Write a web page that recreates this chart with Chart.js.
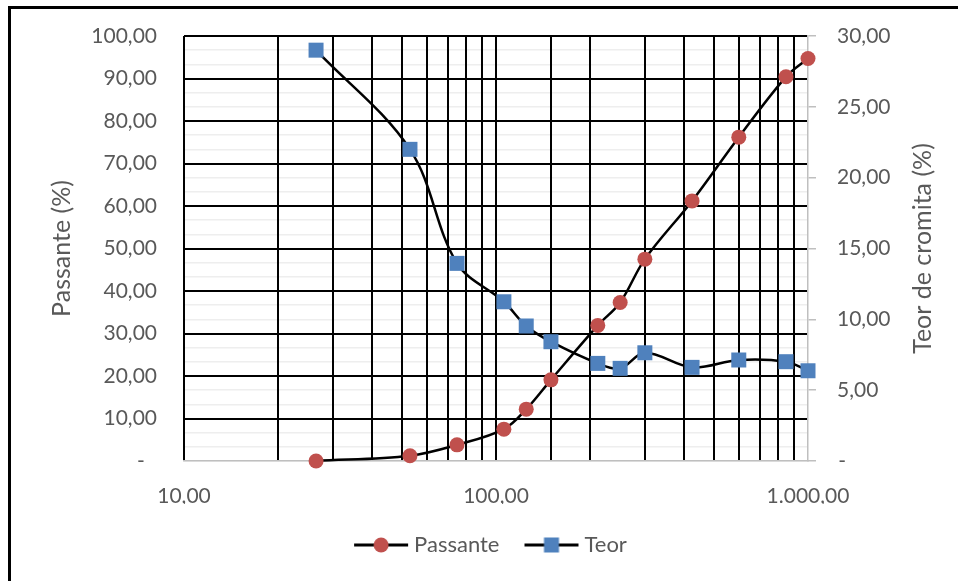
<!DOCTYPE html>
<html>
<head>
<meta charset="utf-8">
<script src="https://cdn.jsdelivr.net/npm/chart.js@4.4.1/dist/chart.umd.min.js"></script>
<style>
    html, body { margin: 0; padding: 0; background: #fff; }
    #wrap { position: relative; width: 958px; height: 581px; overflow: hidden; }
    #frame { position: absolute; left: 8px; top: 6px; width: 1000px; height: 700px;
             border-left: 3px solid #000; border-top: 3px solid #000; }
    #chart { position: absolute; left: 0; top: 0; }
</style>
</head>
<body>
<div id="wrap">
    <div id="frame"></div>
    <canvas id="chart" width="958" height="581"></canvas>
</div>
<script>
// sieve opening (x), passing % (left axis), chromite grade % (right axis)
const sizes    = [26.5, 53, 75, 106, 125, 150, 212, 250, 300, 425, 600, 850, 1000];
const passante = [0, 1.25, 3.8, 7.5, 12.2, 19.1, 31.9, 37.3, 47.5, 61.2, 76.2, 90.4, 94.7];
const teor     = [29.0, 22.0, 13.95, 11.24, 9.53, 8.42, 6.89, 6.54, 7.64, 6.61, 7.13, 7.01, 6.37];

const xDecades    = [10, 100, 1000];
const xTickLabels = ["10,00", "100,00", "1.000,00"];

const leftTitle  = "Passante (%)";
const rightTitle = "Teor de cromita (%)";

const GREY_TEXT = "#595959";
const AXIS_GREY = "#bfbfbf";
const FONT = "Lato, 'Open Sans', sans-serif";

function fmt(v) {
    const parts = v.toFixed(2).split(".");
    parts[0] = parts[0].replace(/\B(?=(\d{3})+(?!\d))/g, ".");
    return parts.join(",");
}

/* legend swatch: black line with the series marker on it */
function legendMarker(kind, color) {
    const c = document.createElement("canvas");
    c.width = 56; c.height = 18;
    const g = c.getContext("2d");
    g.strokeStyle = "#000";
    g.lineWidth = 3;
    g.beginPath(); g.moveTo(1, 9); g.lineTo(55, 9); g.stroke();
    g.fillStyle = color;
    if (kind === "circle") {
        g.beginPath(); g.arc(28, 9, 7.5, 0, Math.PI * 2); g.fill();
    } else {
        g.fillRect(20.5, 1.5, 15, 15);
    }
    return c;
}

/* right axis title reads bottom-to-top like the left one */
const rightTitlePlugin = {
    id: "rightTitle",
    afterDraw(chart) {
        const { ctx, chartArea } = chart;
        ctx.save();
        ctx.translate(923, (chartArea.top + chartArea.bottom) / 2);
        ctx.rotate(-Math.PI / 2);
        ctx.font = "25px " + FONT;
        ctx.fillStyle = GREY_TEXT;
        ctx.textAlign = "center";
        ctx.textBaseline = "middle";
        ctx.fillText(rightTitle, 0, 0);
        ctx.restore();
    }
};

Chart.defaults.font.family = FONT;
Chart.defaults.color = GREY_TEXT;

const markers = [legendMarker("circle", "#c0504d"), legendMarker("rect", "#4f81bd")];

new Chart(document.getElementById("chart"), {
    type: "line",
    data: {
        datasets: [{
            label: "Passante",
            data: sizes.map((s, i) => ({ x: s, y: passante[i] })),
            yAxisID: "y",
            order: 1,
            borderColor: "#000",
            borderWidth: 2.5,
            tension: 0.35,
            pointStyle: "circle",
            pointRadius: 7.5,
            pointBackgroundColor: "#c0504d",
            pointBorderColor: "#c0504d",
            pointBorderWidth: 0,
            clip: false
        }, {
            label: "Teor",
            data: sizes.map((s, i) => ({ x: s, y: teor[i] })),
            yAxisID: "y2",
            order: 0,
            borderColor: "#000",
            borderWidth: 2.5,
            tension: 0.35,
            pointStyle: "rect",
            pointRadius: 10.6,
            pointBackgroundColor: "#4f81bd",
            pointBorderColor: "#4f81bd",
            pointBorderWidth: 0,
            clip: false
        }]
    },
    options: {
        responsive: false,
        animation: false,
        layout: { padding: { left: 28, top: 36, right: 0, bottom: 15 } },
        plugins: {
            tooltip: { enabled: false },
            legend: {
                position: "bottom",
                labels: {
                    usePointStyle: true,
                    pointStyleWidth: 44,
                    padding: 30,
                    font: { size: 22 },
                    color: GREY_TEXT,
                    generateLabels: chart => chart.data.datasets.map((ds, i) => ({
                        text: ds.label,
                        pointStyle: markers[i],
                        fillStyle: ds.pointBackgroundColor,
                        strokeStyle: "rgba(0,0,0,0)",
                        lineWidth: 0,
                        fontColor: GREY_TEXT,
                        hidden: false,
                        datasetIndex: i
                    }))
                }
            }
        },
        scales: {
            x: {
                type: "logarithmic",
                min: 10,
                max: 1000,
                grid: {
                    color: c => (c.tick && Math.abs(c.tick.value - 1000) < 1e-6) ? "rgba(0,0,0,0)" : "#000",
                    lineWidth: 2,
                    drawTicks: false
                },
                border: { color: AXIS_GREY, width: 1.5 },
                ticks: {
                    autoSkip: false,
                    maxRotation: 0,
                    padding: 23,
                    font: { size: 21 },
                    callback: v => {
                        const i = xDecades.findIndex(d => Math.abs(d - v) < 1e-6);
                        return i >= 0 ? xTickLabels[i] : "";
                    }
                },
                afterFit: s => { s.height = 43; }
            },
            y: {
                position: "left",
                min: 0,
                max: 100,
                grid: {
                    color: c => (c.tick && c.tick.value === 0) ? "rgba(0,0,0,0)" : "#000",
                    lineWidth: 2,
                    drawTicks: true,
                    tickLength: 27,
                    tickColor: "rgba(0,0,0,0)"
                },
                border: { display: false },
                ticks: {
                    stepSize: 10,
                    padding: 0,
                    font: { size: 21 },
                    callback: v => v === 0 ? "-\u2007" : fmt(v)
                },
                title: {
                    display: true,
                    text: leftTitle,
                    color: GREY_TEXT,
                    font: { size: 25 },
                    padding: { top: 19, bottom: 0 }
                },
                afterFit: s => { s.width = 156; }
            },
            y2: {
                position: "right",
                min: 0,
                max: 30,
                grid: {
                    z: -2,
                    color: "#eeeeee",
                    lineWidth: 1.5,
                    drawTicks: true,
                    tickLength: 8,
                    tickWidth: 1.5,
                    tickColor: c => (c.tick && c.tick.value % 5 === 0) ? AXIS_GREY : "rgba(0,0,0,0)"
                },
                border: { color: AXIS_GREY, width: 1.5 },
                ticks: {
                    stepSize: 1,
                    autoSkip: false,
                    padding: 21,
                    font: { size: 21 },
                    callback: v => v === 0 ? "\u200a-" : (v % 5 === 0 ? fmt(v) : "")
                },
                title: { display: false },
                afterFit: s => { s.width = 150; }
            }
        }
    },
    plugins: [rightTitlePlugin]
});
</script>
</body>
</html>
